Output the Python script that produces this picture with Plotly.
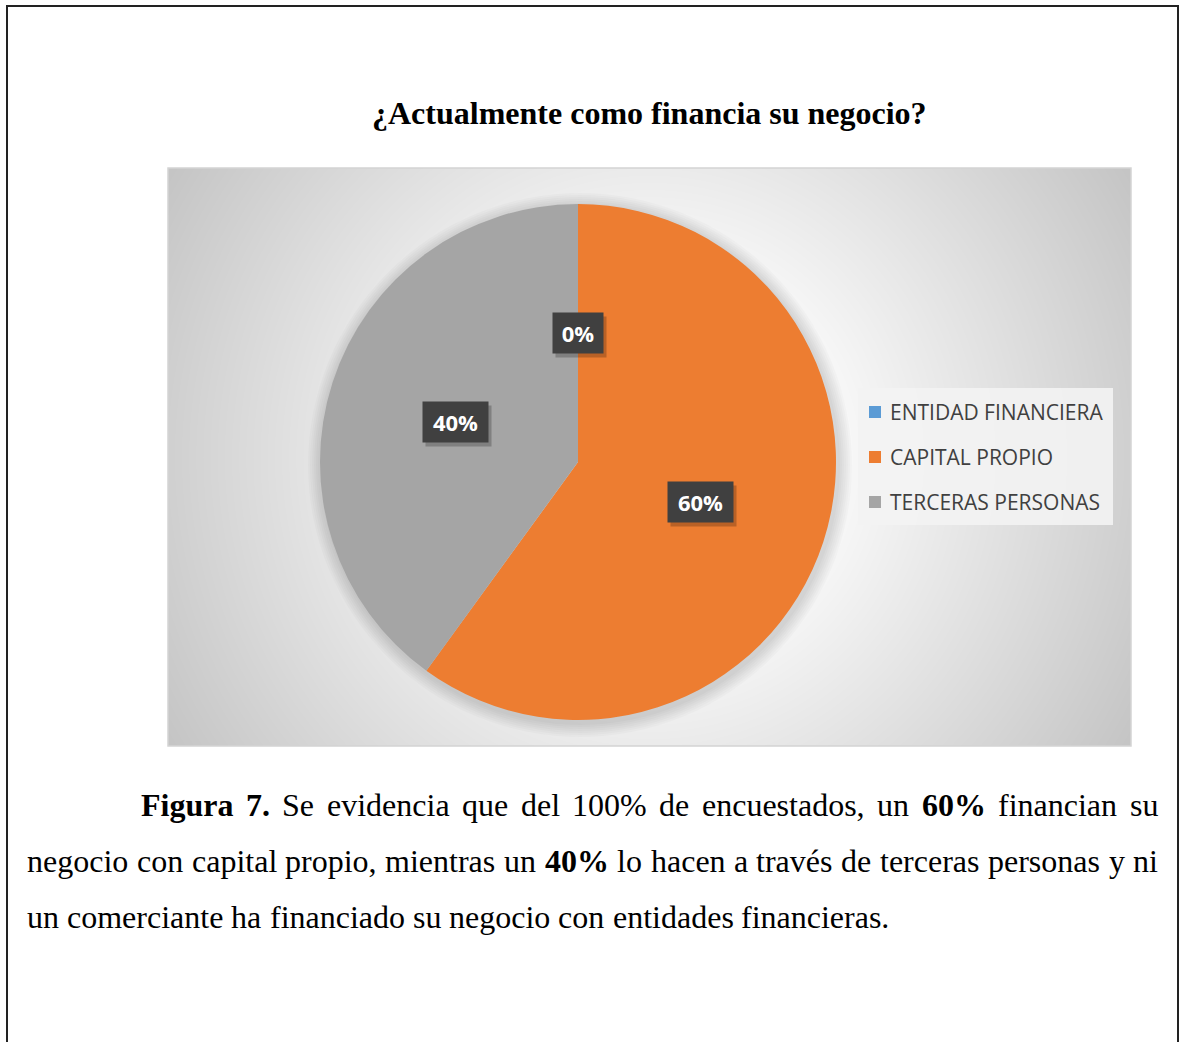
import base64
import struct
import zlib

import numpy as np
import plotly.graph_objects as go

# ---------------- data ----------------
categories = ["ENTIDAD FINANCIERA", "CAPITAL PROPIO", "TERCERAS PERSONAS"]
values = [0, 60, 40]
colors = ["#5B9BD5", "#ED7D31", "#A5A5A5"]
chart_title = "¿Actualmente como financia su negocio?"

caption_lines = [
    [("Figura", True), ("7.", True), ("Se", False), ("evidencia", False), ("que", False),
     ("del", False), ("100%", False), ("de", False), ("encuestados,", False), ("un", False),
     ("60%", True), ("financian", False), ("su", False)],
    [("negocio", False), ("con", False), ("capital", False), ("propio,", False), ("mientras", False),
     ("un", False), ("40%", True), ("lo", False), ("hacen", False), ("a", False), ("través", False),
     ("de", False), ("terceras", False), ("personas", False), ("y", False), ("ni", False)],
    [("un", False), ("comerciante", False), ("ha", False), ("financiado", False), ("su", False),
     ("negocio", False), ("con", False), ("entidades", False), ("financieras.", False)],
]

# ---------------- helpers ----------------
W, H = 1187, 1042
OFF = 0  # page body margin removed by post_script


def px(x):
    return (x - OFF) / W


def py(y):
    return 1 - (y - OFF) / H


def gradient_png(w, h, cx, cy):
    yy, xx = np.mgrid[0:h, 0:w]
    r = np.hypot(xx - cx, yy - cy)
    v = 255 - 0.14 * np.clip(r - 146, 0, None)
    v = np.clip(v, 190, 255).astype(np.uint8)
    raw = b"".join(b"\x00" + v[i].tobytes() for i in range(h))

    def chunk(t, d):
        c = struct.pack(">I", len(d)) + t + d
        return c + struct.pack(">I", zlib.crc32(t + d) & 0xFFFFFFFF)

    png = (b"\x89PNG\r\n\x1a\n"
           + chunk(b"IHDR", struct.pack(">IIBBBBB", w, h, 8, 0, 0, 0, 0))
           + chunk(b"IDAT", zlib.compress(raw, 9))
           + chunk(b"IEND", b""))
    return "data:image/png;base64," + base64.b64encode(png).decode()


# Times metrics (units per 1000 em)
TR = {" ": 250, ",": 250, ".": 250, "%": 833, "S": 556, "F": 556,
      "a": 444, "b": 500, "c": 444, "d": 500, "e": 444, "é": 444, "f": 333, "g": 500,
      "h": 500, "i": 278, "l": 278, "m": 778, "n": 500, "o": 500, "p": 500, "q": 500,
      "r": 333, "s": 389, "t": 278, "u": 500, "v": 500, "y": 500, "x": 500}
for d in "0123456789":
    TR[d] = 500
TB = {" ": 250, ".": 250, "%": 1000, "F": 611, "i": 278, "g": 500, "u": 556, "r": 444, "a": 500}
for d in "0123456789":
    TB[d] = 500


def word_w(word, bold, size):
    tab = TB if bold else TR
    return sum(tab.get(c, 500) for c in word) * size / 1000


# ---------------- figure ----------------
PA = (168, 168, 1131, 746)  # plot area x0, y0, x1, y1 (pixels)
CX, CY, R = 578, 462, 258

fig = go.Figure()
fig.add_trace(go.Pie(
    labels=categories, values=values, sort=False, direction="clockwise", rotation=0,
    marker=dict(colors=colors, line=dict(width=0)),
    textinfo="none", hoverinfo="label+percent", showlegend=False,
    domain=dict(x=[px(CX - R), px(CX + R)], y=[py(CY + R), py(CY - R)]),
))

shapes = []
annotations = []

# plot area border
shapes.append(dict(type="rect", xref="paper", yref="paper", layer="below",
                   x0=px(PA[0]), x1=px(PA[2]), y0=py(PA[3]), y1=py(PA[1]),
                   line=dict(color="#d4d4d4", width=1.5)))
# soft pie shadow
for k in range(2, 16, 2):
    r = R + k
    shapes.append(dict(type="circle", xref="paper", yref="paper", layer="below",
                       x0=px(CX + 2 - r), x1=px(CX + 2 + r), y0=py(CY + 3 + r), y1=py(CY + 3 - r),
                       fillcolor="rgba(0,0,0,0.018)", line=dict(width=0)))

# data labels
total = sum(values)
cum = 0
for v in values:
    mid = (cum + v / 2) / total * 2 * np.pi
    cum += v
    lx = CX + 0.5 * R * np.sin(mid)
    ly = CY - 0.5 * R * np.cos(mid)
    txt = f"{round(100 * v / total)}%"
    bw = 20 + 15 * len(txt)
    annotations.append(dict(x=px(lx), y=py(ly), xref="paper", yref="paper", text="",
                            xanchor="center", yanchor="middle",
                            showarrow=False, width=bw, height=40, xshift=3, yshift=-4,
                            bgcolor="rgba(0,0,0,0.22)", borderpad=0))
    annotations.append(dict(x=px(lx), y=py(ly), xref="paper", yref="paper", text=f"<b>{txt}</b>",
                            xanchor="center", yanchor="middle",
                            showarrow=False, width=bw, height=40, bgcolor="#404040", borderpad=0,
                            font=dict(family="Open Sans", size=22, color="white")))

# legend (custom, Excel-like spacing)
shapes.append(dict(type="rect", xref="paper", yref="paper", layer="below",
                   x0=px(858), x1=px(1113), y0=py(525), y1=py(388),
                   fillcolor="rgba(243,243,243,0.9)", line=dict(width=0)))
for i, (cat, col) in enumerate(zip(categories, colors)):
    yc = 412 + 45 * i
    shapes.append(dict(type="rect", xref="paper", yref="paper",
                       x0=px(869), x1=px(881), y0=py(yc + 6), y1=py(yc - 6),
                       fillcolor=col, line=dict(width=0)))
    annotations.append(dict(x=px(888), y=py(yc), xref="paper", yref="paper", text=cat,
                            xanchor="left", yanchor="middle", showarrow=False,
                            font=dict(family="Open Sans", size=21, color="#404040")))

# title
annotations.append(dict(x=px(649), y=py(113), xref="paper", yref="paper",
                        text=f"<b>{chart_title}</b>", showarrow=False,
                        xanchor="center", yanchor="middle",
                        font=dict(family="Liberation Serif", size=32, color="black")))

# caption (justified)
CS = 32
line_specs = [(141, 1158, 805, True), (27, 1158, 861, True), (27, None, 917, False)]
for words, (x0, x1, yc, justify) in zip(caption_lines, line_specs):
    widths = [word_w(w, b, CS) for w, b in words]
    if justify:
        gap = (x1 - x0 - sum(widths)) / (len(words) - 1)
    else:
        gap = TR[" "] * CS / 1000
    x = x0
    for (w, b), ww in zip(words, widths):
        t = f"<b>{w}</b>" if b else w
        annotations.append(dict(x=px(x), y=py(yc), xref="paper", yref="paper", text=t,
                                xanchor="left", yanchor="middle", showarrow=False,
                                borderpad=0, borderwidth=0,
                                font=dict(family="Liberation Serif", size=CS, color="black")))
        x += ww + gap

# outer frame
shapes.append(dict(type="rect", xref="paper", yref="paper", layer="above",
                   x0=px(7), x1=px(1178), y0=-0.05, y1=py(6),
                   line=dict(color="#222222", width=2)))

fig.update_layout(
    width=W, height=H, margin=dict(l=0, r=0, t=0, b=0),
    paper_bgcolor="white", plot_bgcolor="white",
    showlegend=False,
    xaxis=dict(visible=False), yaxis=dict(visible=False),
    shapes=shapes, annotations=annotations,
    images=[dict(source=gradient_png(PA[2] - PA[0], PA[3] - PA[1], 481, 289),
                 xref="paper", yref="paper", x=px(PA[0]), y=py(PA[1]),
                 sizex=(PA[2] - PA[0]) / W, sizey=(PA[3] - PA[1]) / H,
                 xanchor="left", yanchor="top", sizing="stretch", layer="below")],
)

fig.write_html("out.html", config={"displayModeBar": False},
               post_script="document.body.style.margin='0';document.body.style.overflow='hidden';")
